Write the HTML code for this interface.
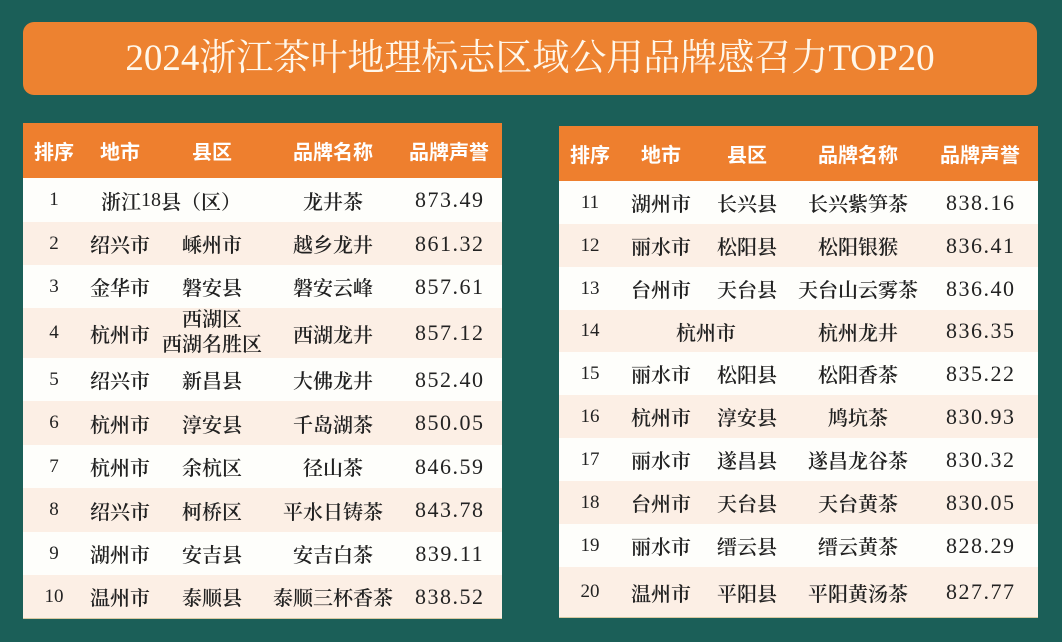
<!DOCTYPE html>
<html><head><meta charset="utf-8">
<style>
*{margin:0;padding:0;box-sizing:border-box}
html,body{width:1062px;height:642px;overflow:hidden;background:#1b5f58}
body{position:relative;font-family:"Liberation Serif","Noto Serif CJK SC",serif}
.title{position:absolute;left:23px;top:22px;width:1014px;height:73px;background:#ed8230;border-radius:11px;color:#fff7ea;font-size:37px;line-height:73px;text-align:center;font-family:"Liberation Serif","Noto Serif CJK SC",serif;white-space:nowrap}
.tbl{position:absolute;background:#fefefb;box-shadow:0 1px 0 #d8c9a2}
.hd{position:absolute;left:0;top:0;right:0;background:#ee7f2e}
.row{position:absolute;left:0;right:0}
.alt{background:#fcefe5}
.c{position:absolute;top:0;height:100%;width:220px;text-align:center;white-space:nowrap;display:flex;align-items:center;justify-content:center;color:#222}
.h{color:#fff;font-family:"Noto Sans CJK SC",sans-serif;font-weight:700;font-size:20px}
.r{font-size:19px}
.t{font-size:20px;font-family:"Liberation Serif","Noto Serif CJK SC",serif;font-weight:600}
.n{font-weight:400}
.v{font-size:22px;letter-spacing:1.5px;padding-left:1.5px}
.two{flex-direction:column;line-height:25px}
</style></head><body>
<div class="title">2024浙江茶叶地理标志区域公用品牌感召力TOP20</div>

<!-- LEFT TABLE -->
<div class="tbl" style="left:23px;top:123px;width:479px;height:495px">
 <div class="hd" style="height:55px">
  <div class="c h" style="left:-79px">排序</div>
  <div class="c h" style="left:-13px">地市</div>
  <div class="c h" style="left:79px">县区</div>
  <div class="c h" style="left:200px">品牌名称</div>
  <div class="c h" style="left:316px">品牌声誉</div>
 </div>
 <div class="row" style="top:55px;height:44px">
  <div class="c r" style="left:-79px">1</div>
  <div class="c t" style="left:38px">浙江<span class="n">18</span>县（区）</div>
  <div class="c t" style="left:200px">龙井茶</div>
  <div class="c v" style="left:316px">873.49</div>
 </div>
 <div class="row alt" style="top:99px;height:43px">
  <div class="c r" style="left:-79px">2</div>
  <div class="c t" style="left:-13px">绍兴市</div>
  <div class="c t" style="left:79px">嵊州市</div>
  <div class="c t" style="left:200px">越乡龙井</div>
  <div class="c v" style="left:316px">861.32</div>
 </div>
 <div class="row" style="top:142px;height:43px">
  <div class="c r" style="left:-79px">3</div>
  <div class="c t" style="left:-13px">金华市</div>
  <div class="c t" style="left:79px">磐安县</div>
  <div class="c t" style="left:200px">磐安云峰</div>
  <div class="c v" style="left:316px">857.61</div>
 </div>
 <div class="row alt" style="top:185px;height:50px">
  <div class="c r" style="left:-79px">4</div>
  <div class="c t" style="left:-13px">杭州市</div>
  <div class="c t two" style="left:79px"><span>西湖区</span><span>西湖名胜区</span></div>
  <div class="c t" style="left:200px">西湖龙井</div>
  <div class="c v" style="left:316px">857.12</div>
 </div>
 <div class="row" style="top:235px;height:43px">
  <div class="c r" style="left:-79px">5</div>
  <div class="c t" style="left:-13px">绍兴市</div>
  <div class="c t" style="left:79px">新昌县</div>
  <div class="c t" style="left:200px">大佛龙井</div>
  <div class="c v" style="left:316px">852.40</div>
 </div>
 <div class="row alt" style="top:278px;height:44px">
  <div class="c r" style="left:-79px">6</div>
  <div class="c t" style="left:-13px">杭州市</div>
  <div class="c t" style="left:79px">淳安县</div>
  <div class="c t" style="left:200px">千岛湖茶</div>
  <div class="c v" style="left:316px">850.05</div>
 </div>
 <div class="row" style="top:322px;height:43px">
  <div class="c r" style="left:-79px">7</div>
  <div class="c t" style="left:-13px">杭州市</div>
  <div class="c t" style="left:79px">余杭区</div>
  <div class="c t" style="left:200px">径山茶</div>
  <div class="c v" style="left:316px">846.59</div>
 </div>
 <div class="row alt" style="top:365px;height:44px">
  <div class="c r" style="left:-79px">8</div>
  <div class="c t" style="left:-13px">绍兴市</div>
  <div class="c t" style="left:79px">柯桥区</div>
  <div class="c t" style="left:200px">平水日铸茶</div>
  <div class="c v" style="left:316px">843.78</div>
 </div>
 <div class="row" style="top:409px;height:43px">
  <div class="c r" style="left:-79px">9</div>
  <div class="c t" style="left:-13px">湖州市</div>
  <div class="c t" style="left:79px">安吉县</div>
  <div class="c t" style="left:200px">安吉白茶</div>
  <div class="c v" style="left:316px">839.11</div>
 </div>
 <div class="row alt" style="top:452px;height:43px">
  <div class="c r" style="left:-79px">10</div>
  <div class="c t" style="left:-13px">温州市</div>
  <div class="c t" style="left:79px">泰顺县</div>
  <div class="c t" style="left:200px">泰顺三杯香茶</div>
  <div class="c v" style="left:316px">838.52</div>
 </div>
</div>

<!-- RIGHT TABLE -->
<div class="tbl" style="left:559px;top:126px;width:479px;height:491px">
 <div class="hd" style="height:55px">
  <div class="c h" style="left:-79px">排序</div>
  <div class="c h" style="left:-8px">地市</div>
  <div class="c h" style="left:78px">县区</div>
  <div class="c h" style="left:189px">品牌名称</div>
  <div class="c h" style="left:311px">品牌声誉</div>
 </div>
 <div class="row" style="top:55px;height:43px">
  <div class="c r" style="left:-79px">11</div>
  <div class="c t" style="left:-8px">湖州市</div>
  <div class="c t" style="left:78px">长兴县</div>
  <div class="c t" style="left:189px">长兴紫笋茶</div>
  <div class="c v" style="left:311px">838.16</div>
 </div>
 <div class="row alt" style="top:98px;height:43px">
  <div class="c r" style="left:-79px">12</div>
  <div class="c t" style="left:-8px">丽水市</div>
  <div class="c t" style="left:78px">松阳县</div>
  <div class="c t" style="left:189px">松阳银猴</div>
  <div class="c v" style="left:311px">836.41</div>
 </div>
 <div class="row" style="top:141px;height:43px">
  <div class="c r" style="left:-79px">13</div>
  <div class="c t" style="left:-8px">台州市</div>
  <div class="c t" style="left:78px">天台县</div>
  <div class="c t" style="left:189px">天台山云雾茶</div>
  <div class="c v" style="left:311px">836.40</div>
 </div>
 <div class="row alt" style="top:184px;height:42px">
  <div class="c r" style="left:-79px">14</div>
  <div class="c t" style="left:37px">杭州市</div>
  <div class="c t" style="left:189px">杭州龙井</div>
  <div class="c v" style="left:311px">836.35</div>
 </div>
 <div class="row" style="top:226px;height:43px">
  <div class="c r" style="left:-79px">15</div>
  <div class="c t" style="left:-8px">丽水市</div>
  <div class="c t" style="left:78px">松阳县</div>
  <div class="c t" style="left:189px">松阳香茶</div>
  <div class="c v" style="left:311px">835.22</div>
 </div>
 <div class="row alt" style="top:269px;height:43px">
  <div class="c r" style="left:-79px">16</div>
  <div class="c t" style="left:-8px">杭州市</div>
  <div class="c t" style="left:78px">淳安县</div>
  <div class="c t" style="left:189px">鸠坑茶</div>
  <div class="c v" style="left:311px">830.93</div>
 </div>
 <div class="row" style="top:312px;height:43px">
  <div class="c r" style="left:-79px">17</div>
  <div class="c t" style="left:-8px">丽水市</div>
  <div class="c t" style="left:78px">遂昌县</div>
  <div class="c t" style="left:189px">遂昌龙谷茶</div>
  <div class="c v" style="left:311px">830.32</div>
 </div>
 <div class="row alt" style="top:355px;height:43px">
  <div class="c r" style="left:-79px">18</div>
  <div class="c t" style="left:-8px">台州市</div>
  <div class="c t" style="left:78px">天台县</div>
  <div class="c t" style="left:189px">天台黄茶</div>
  <div class="c v" style="left:311px">830.05</div>
 </div>
 <div class="row" style="top:398px;height:43px">
  <div class="c r" style="left:-79px">19</div>
  <div class="c t" style="left:-8px">丽水市</div>
  <div class="c t" style="left:78px">缙云县</div>
  <div class="c t" style="left:189px">缙云黄茶</div>
  <div class="c v" style="left:311px">828.29</div>
 </div>
 <div class="row alt" style="top:441px;height:50px">
  <div class="c r" style="left:-79px">20</div>
  <div class="c t" style="left:-8px">温州市</div>
  <div class="c t" style="left:78px">平阳县</div>
  <div class="c t" style="left:189px">平阳黄汤茶</div>
  <div class="c v" style="left:311px">827.77</div>
 </div>
</div>
</body></html>
